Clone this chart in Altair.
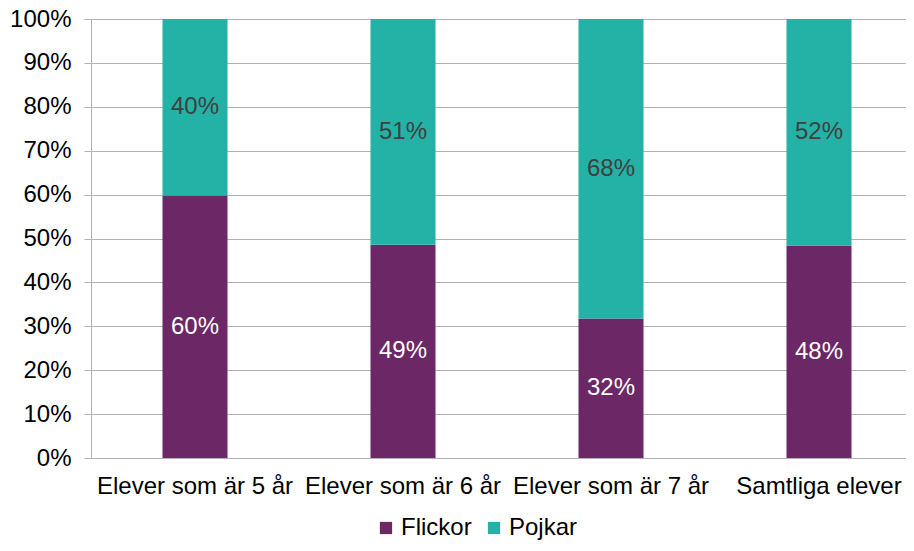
import altair as alt
import pandas as pd

categories = ["Elever som är 5 år", "Elever som är 6 år", "Elever som är 7 år", "Samtliga elever"]
flickor = [59.8, 48.6, 31.8, 48.4]
pojkar = [40.2, 51.4, 68.2, 51.6]
series = ["Flickor", "Pojkar"]

rows = []
for c, f, p in zip(categories, flickor, pojkar):
    rows.append({"cat": c, "serie": "Flickor", "val": f, "order": 0, "lab": f"{round(f)}%"})
    rows.append({"cat": c, "serie": "Pojkar", "val": p, "order": 1, "lab": f"{round(p)}%"})
df = pd.DataFrame(rows)

FONT = "Liberation Sans"
FS = 24
grid = "#B3B3B3"

base = alt.Chart(df).encode(
    x=alt.X("cat:N", sort=categories, title=None,
            scale=alt.Scale(paddingInner=0, paddingOuter=0, range=[0, 832]),
            axis=alt.Axis(labelAngle=0, labelFont=FONT, labelFontSize=FS, labelColor="#000000",
                          ticks=False, domainColor=grid, labelPadding=16, labelLimit=300)),
)

bars = base.mark_bar(size=65).encode(
    y=alt.Y("val:Q", stack="zero", title=None,
            scale=alt.Scale(domain=[0, 100]),
            axis=alt.Axis(values=list(range(0, 101, 10)), labelExpr="datum.value + '%'",
                          labelFont=FONT, labelFontSize=FS, labelColor="#000000",
                          tickColor=grid, tickSize=7, domainColor=grid, gridColor=grid,
                          labelPadding=13)),
    color=alt.Color("serie:N", sort=series,
                    scale=alt.Scale(domain=series, range=["#6C2767", "#23B2A5"]),
                    legend=alt.Legend(title=None, orient="none", direction="horizontal",
                                      legendX=283, legendY=497, symbolType="square",
                                      symbolSize=150, symbolStrokeWidth=0,
                                      labelFont=FONT, labelFontSize=FS, labelColor="#000000",
                                      columnPadding=10, symbolOffset=0, labelOffset=3)),
    order=alt.Order("order:Q"),
)

text = base.mark_text(font=FONT, fontSize=FS, baseline="middle").encode(
    y=alt.Y("val:Q", stack="zero", bandPosition=0.5),
    text="lab:N",
    color=alt.Color("serie:N", scale=alt.Scale(domain=series, range=["#FFFFFF", "#404040"]), legend=None),
    order=alt.Order("order:Q"),
)

chart = alt.layer(bars, text).resolve_scale(color="independent").properties(
    width=815, height=439,
    autosize=alt.AutoSizeParams(type="none"),
    padding={"left": 83, "top": 11, "right": 0, "bottom": 85},
).configure_view(stroke=None).configure_axis(grid=True).configure_axisX(grid=False)

chart.save("out.html", embed_options={"renderer": "svg", "actions": False})
